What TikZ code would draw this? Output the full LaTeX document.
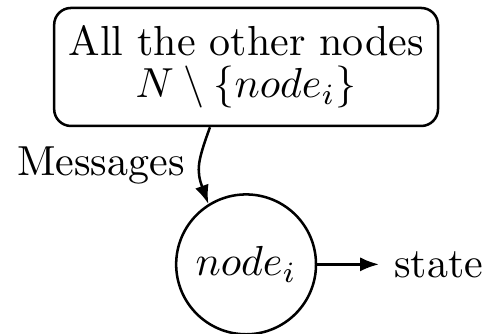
\documentclass[tikz,border=0pt]{standalone}
\usepackage{amsmath,amssymb}
\usepackage{tikz}
\usetikzlibrary{arrows.meta,positioning}

\begin{document}
\begin{tikzpicture}[>={Latex[length=4.5pt]},semithick,
    groupbox/.style={draw,rounded corners,align=center,minimum width=91.4pt,minimum height=28.1pt},
    peer/.style={draw,circle,inner sep=2pt,minimum size=33.3pt}]
  \useasboundingbox (0,0) rectangle (116.2pt,-79.5pt);
  \node[groupbox] (others) at (58.6pt,-15.95pt) {All the other nodes\\[-2pt]$N\setminus\{node_i\}$};
  \node[peer,below=15.7pt of others] (nodei) {$node_i$};
  \node[right=14.7pt of nodei] (state) {state};
  \draw[->] ([xshift=-8.6pt]others.south) to[out=250,in=110,looseness=1.2] node[left] {Messages} (nodei.122);
  \draw[->] (nodei) -- (state);
\end{tikzpicture}
\end{document}
